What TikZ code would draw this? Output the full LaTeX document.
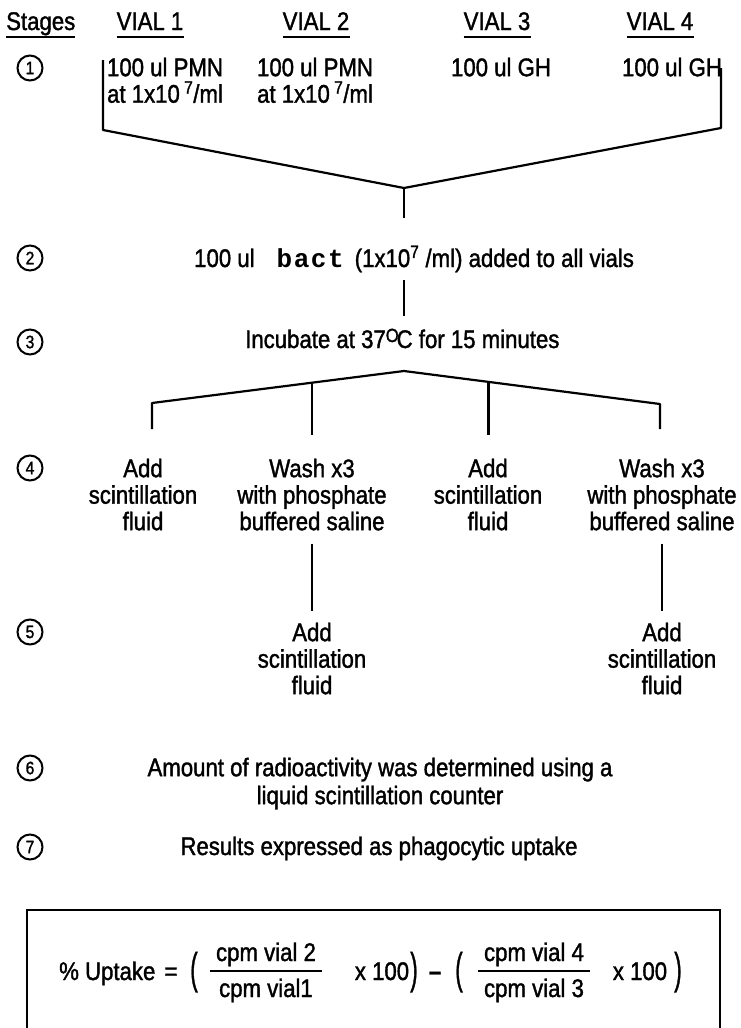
\documentclass[tikz,border=0pt]{standalone}
\usepackage{fontspec}
\setmainfont{Liberation Sans}[FakeStretch=0.87,FakeBold=1.4]
\newfontfamily\bactfont{Liberation Mono}[LetterSpace=6]
\usepackage{graphicx}
\usetikzlibrary{positioning}
\usetikzlibrary{calc}

\begin{document}
\begin{tikzpicture}[x=1pt,y=-1pt]
\tikzstyle{txt}=[inner sep=0pt, font=\fontsize{25.5}{26.5}\selectfont, align=center];
\tikzstyle{hdr}=[inner sep=0pt, font=\fontsize{25.5}{26.5}\selectfont, anchor=base];
\tikzstyle{stagenum}=[draw, circle, line width=2pt, minimum size=25pt, inner sep=0pt, font=\fontsize{18}{18}\selectfont];
\tikzstyle{ln}=[line width=2.2pt, line join=round];
\tikzstyle{uline}=[line width=2.6pt];
\tikzstyle{fracbar}=[line width=2pt];

\useasboundingbox[fill=white] (0,0) rectangle (741,1028);

% headings
\node[hdr, anchor=base west] (stages) at (6,30) {Stages};
\node[hdr] (vialA) at (150,30) {VIAL 1};
\node[hdr] (vialB) at (316,30) {VIAL 2};
\node[hdr] (vialC) at (497,30) {VIAL 3};
\node[hdr] (vialD) at (660,30) {VIAL 4};
\foreach \n in {stages,vialA,vialB,vialC,vialD}
  \draw[uline] ([yshift=-7pt]\n.base west) -- ([yshift=-7pt]\n.base east);

% stage numbers
\foreach \k/\y in {1/68,2/258,3/342,4/468,5/632,6/768,7/847}
  \node[stagenum] (s\k) at (30,\y) {\k};

% stage 1
\node[txt, anchor=north] (pmnA) at (165,57.5) {100 ul PMN\\at 1x10\,\textsuperscript{7}/ml};
\node[txt, anchor=north] (pmnB) at (315,57.5) {100 ul PMN\\at 1x10\,\textsuperscript{7}/ml};
\node[txt, anchor=north] (ghC) at (501,57.5) {100 ul GH};
\node[txt, anchor=north] (ghD) at (672,57.5) {100 ul GH};

\coordinate (brLtop) at (103,60);
\coordinate (brLbot) at (103,130);
\coordinate (brRtop) at (721,68);
\coordinate (brRbot) at (721,128);
\coordinate (apexA) at (404,188);
\coordinate (stemA) at (404,218);
\draw[ln] (brLtop) -- (brLbot) -- (apexA) -- (brRbot) -- (brRtop);
\draw[ln] (apexA) -- (stemA);

% stage 2
\node[txt, anchor=base west] (addbact) at (194,267) {100 ul\hspace{22pt}{\bactfont\bfseries\fontsize{26}{26}\selectfont bact}\hspace{11pt}(1x10\textsuperscript{7} /ml) added to all vials};
\coordinate (stemBtop) at (404,280);
\coordinate (stemBbot) at (404,316);
\draw[ln] (stemBtop) -- (stemBbot);

% stage 3
\node[txt, anchor=base west] (incub) at (245,348) {Incubate at 37\raisebox{6pt}{\fontsize{19}{19}\selectfont O}\kern-2pt C for 15 minutes};

\coordinate (apexB) at (404,371);
\coordinate (trL) at (152,403);
\coordinate (trR) at (660,404);
\coordinate (jB) at ($(trL)!0.635!(apexB)$);
\coordinate (jC) at ($(apexB)!0.33!(trR)$);
\draw[ln] (152,429) -- (trL) -- (apexB) -- (trR) -- (660,429);
\draw[ln] (jB) -- (jB |- 0,435);
\draw[ln] (jC) -- (jC |- 0,435);

% stage 4
\node[txt, anchor=north] (addA) at (143,458.5) {Add\\scintillation\\fluid};
\node[txt, anchor=north] (washB) at (312,458.5) {Wash x3\\with phosphate\\buffered saline};
\node[txt, anchor=north] (addC) at (488,458.5) {Add\\scintillation\\fluid};
\node[txt, anchor=north] (washD) at (662,458.5) {Wash x3\\with phosphate\\buffered saline};

% stage 5
\node[txt, anchor=north] (addB) at (312,622.5) {Add\\scintillation\\fluid};
\node[txt, anchor=north] (addD) at (662,622.5) {Add\\scintillation\\fluid};
\draw[ln] ([yshift=-13pt]washB.south) -- ([yshift=12pt]addB.north);
\draw[ln] ([yshift=-13pt]washD.south) -- ([yshift=12pt]addD.north);

% stage 6 and 7
\node[txt, anchor=north, font=\fontsize{25.5}{28}\selectfont] (count) at (380,757.5) {Amount of radioactivity was determined using a\\liquid scintillation counter};
\node[txt, anchor=base] (result) at (379,855) {Results expressed as phagocytic uptake};

% formula box
\coordinate (boxBL) at (27,1034);
\coordinate (boxTL) at (27,910);
\coordinate (boxTR) at (720,910);
\coordinate (boxBR) at (720,1034);
\draw[line width=2pt] (boxBL) -- (boxTL) -- (boxTR) -- (boxBR);

\node[txt, anchor=base west] (upt) at (59,980) {\% Uptake};
\node[txt, anchor=base] (eqs) at (171,980) {=};
\node[txt] (lpA) at (194,972) {\scalebox{1}[1.7]{(}};
\node[txt, anchor=base] (numA) at (266,961) {cpm vial 2};
\node[txt, anchor=base] (denA) at (266,997) {cpm vial1};
\draw[fracbar] ([xshift=-6pt,yshift=-10pt]numA.base west) -- ([xshift=6pt,yshift=-10pt]numA.base east);
\node[txt, anchor=base] (xA) at (382,980) {x 100};
\node[txt] (rpA) at (414,972) {\scalebox{1}[1.7]{)}};
\node[txt, anchor=base] (minus) at (435,980) {\textbf{--}};
\node[txt] (lpB) at (459,972) {\scalebox{1}[1.7]{(}};
\node[txt, anchor=base] (numB) at (534,961) {cpm vial 4};
\node[txt, anchor=base] (denB) at (534,997) {cpm vial 3};
\draw[fracbar] ([xshift=-6pt,yshift=-10pt]numB.base west) -- ([xshift=6pt,yshift=-10pt]numB.base east);
\node[txt, anchor=base] (xB) at (640,980) {x 100};
\node[txt] (rpB) at (678,972) {\scalebox{1}[1.7]{)}};

\end{tikzpicture}
\end{document}
